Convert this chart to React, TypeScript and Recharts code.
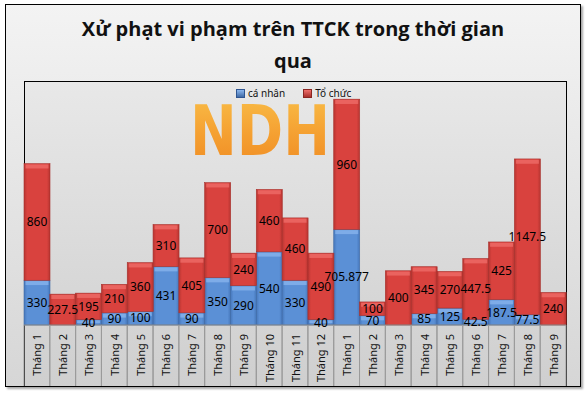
import React from "react";
import { BarChart, Bar, XAxis, YAxis, LabelList } from "recharts";

const categories = [
  "Tháng 1", "Tháng 2", "Tháng 3", "Tháng 4", "Tháng 5", "Tháng 6", "Tháng 7",
  "Tháng 8", "Tháng 9", "Tháng 10", "Tháng 11", "Tháng 12",
  "Tháng 1", "Tháng 2", "Tháng 3", "Tháng 4", "Tháng 5", "Tháng 6", "Tháng 7",
  "Tháng 8", "Tháng 9",
];
const caNhan: (number | null)[] = [
  330, null, 40, 90, 100, 431, 90, 350, 290, 540, 330, 40,
  705.877, 70, null, 85, 125, 42.5, 187.5, 77.5, null,
];
const toChuc: number[] = [
  860, 227.5, 195, 210, 360, 310, 405, 700, 240, 460, 460, 490,
  960, 100, 400, 345, 270, 447.5, 425, 1147.5, 240,
];
const seriesNames = ["cá nhân", "Tổ chức"];
const title1 = "Xử phạt vi phạm trên TTCK trong thời gian";
const title2 = "qua";

const data = categories.map((c, i) => ({
  id: i,
  name: c,
  caNhan: caNhan[i],
  toChuc: toChuc[i],
}));

const PLOT_L = 24;
const PLOT_R = 566;
const PLOT_T = 81;
const AXIS_Y = 325;
const BOX_B = 386;
const HALF_BAND = (PLOT_R - PLOT_L) / categories.length / 2;

const palettes: Record<string, { base: string; edge: string; top: string; stroke: string }> = {
  blue: { base: "#5b90d6", edge: "#4677bb", top: "#8ab6ee", stroke: "#3f6aa6" },
  red: { base: "#d9423e", edge: "#b73531", top: "#ef6f6b", stroke: "#a8302c" },
};

const makeShape = (kind: string) => (props: any) => {
  const { x, y, width, height, index } = props;
  if (!height || height <= 0) return null;
  const p = palettes[kind];
  const gid = `g-${kind}-${index}`;
  const bev = Math.min(4, height / 2);
  return (
    <g>
      <defs>
        <linearGradient id={gid} x1="0" y1="0" x2="1" y2="0">
          <stop offset="0" stopColor={p.edge} />
          <stop offset="0.12" stopColor={p.base} />
          <stop offset="0.88" stopColor={p.base} />
          <stop offset="1" stopColor={p.edge} />
        </linearGradient>
      </defs>
      <rect x={x} y={y} width={width} height={height} fill={`url(#${gid})`} stroke={p.stroke} strokeWidth={0.6} />
      <rect x={x + 1.5} y={y + 0.8} width={Math.max(0, width - 3)} height={bev} fill={p.top} opacity={0.75} />
    </g>
  );
};

const XTick = (props: any) => {
  const { x, payload } = props;
  const label = categories[payload.value] ?? "";
  return (
    <g>
      <line x1={x - HALF_BAND} x2={x - HALF_BAND} y1={AXIS_Y} y2={BOX_B} stroke="#9a9a9a" />
      <line x1={x + HALF_BAND} x2={x + HALF_BAND} y1={AXIS_Y} y2={BOX_B} stroke="#9a9a9a" />
      <text
        x={x}
        y={334}
        transform={`rotate(-90, ${x}, 334)`}
        textAnchor="end"
        dominantBaseline="central"
        fontFamily="Noto Sans"
        fontSize={11}
        fill="#111"
      >
        {label}
      </text>
    </g>
  );
};

const fmt = (v: any) => (v == null || v === 0 ? "" : String(v));

export default function App() {
  return (
    <div style={{ position: "absolute", left: 0, top: 0, width: 586, height: 394, background: "#ffffff" }}>
      <div
        style={{
          position: "absolute",
          left: 5,
          top: 4,
          width: 576,
          height: 383,
          border: "1px solid #000",
          boxSizing: "border-box",
          background: "linear-gradient(#f3f3f3, #d6d6d6)",
          boxShadow: "2px 2px 2px rgba(0,0,0,0.35)",
        }}
      />
      <div
        style={{
          position: "absolute",
          left: PLOT_L,
          top: PLOT_T,
          width: PLOT_R - PLOT_L + 1,
          height: BOX_B - PLOT_T + 1,
          border: "1px solid #000",
          boxSizing: "border-box",
          background: "linear-gradient(#e8e8e8, #cfcfcf)",
        }}
      />
      <div
        style={{
          position: "absolute",
          left: 0,
          top: 13,
          width: 586,
          textAlign: "center",
          fontFamily: "Open Sans",
          fontWeight: 700,
          fontSize: 20,
          lineHeight: "32px",
          color: "#111",
        }}
      >
        <div>{title1}</div>
        <div>{title2}</div>
      </div>
      <svg width={586} height={394} style={{ position: "absolute", left: 0, top: 0 }}>
        <defs>
          <linearGradient id="logoG" x1="0" y1="0" x2="0" y2="1">
            <stop offset="0" stopColor="#f9c04a" />
            <stop offset="0.5" stopColor="#f5a233" />
            <stop offset="1" stopColor="#ef8a22" />
          </linearGradient>
        </defs>
        <text
          x={190}
          y={155}
          fontFamily="DejaVu Sans"
          fontWeight={700}
          fontSize={70}
          textLength={140}
          lengthAdjust="spacingAndGlyphs"
          fill="url(#logoG)"
        >
          NDH
        </text>
      </svg>
      <div style={{ position: "absolute", left: 0, top: 0 }}>
        <BarChart
          width={586}
          height={394}
          data={data}
          margin={{ top: PLOT_T, right: 586 - PLOT_R, left: PLOT_L, bottom: 8 }}
          barCategoryGap={0}
          barGap={0}
        >
          <XAxis
            dataKey="id"
            type="category"
            height={61}
            interval={0}
            tickLine={false}
            axisLine={{ stroke: "#8a8a8a" }}
            tick={<XTick />}
          />
          <YAxis hide domain={[0, 1800]} />
          <Bar dataKey="caNhan" stackId="a" fill="#5b90d6" isAnimationActive={false} shape={makeShape("blue")}>
            <LabelList dataKey="caNhan" position="center" formatter={fmt} fontFamily="Noto Sans" fontSize={12} fill="#000" />
          </Bar>
          <Bar dataKey="toChuc" stackId="a" fill="#d9423e" isAnimationActive={false} shape={makeShape("red")}>
            <LabelList dataKey="toChuc" position="center" formatter={fmt} fontFamily="Noto Sans" fontSize={12} fill="#000" />
          </Bar>
        </BarChart>
      </div>
      <div
        style={{
          position: "absolute",
          left: 236,
          top: 86,
          display: "flex",
          alignItems: "center",
          fontFamily: "Noto Sans",
          fontSize: 10,
          color: "#111",
          whiteSpace: "nowrap",
        }}
      >
        <span style={{ display: "inline-block", width: 7, height: 7, background: "linear-gradient(#8ab6ee, #3f6aa6)", border: "1px solid #2f5590", marginRight: 3 }} />
        <span style={{ marginRight: 18 }}>{seriesNames[0]}</span>
        <span style={{ display: "inline-block", width: 7, height: 7, background: "linear-gradient(#ef6f6b, #a8302c)", border: "1px solid #8a2622", marginRight: 3 }} />
        <span>{seriesNames[1]}</span>
      </div>
    </div>
  );
}
